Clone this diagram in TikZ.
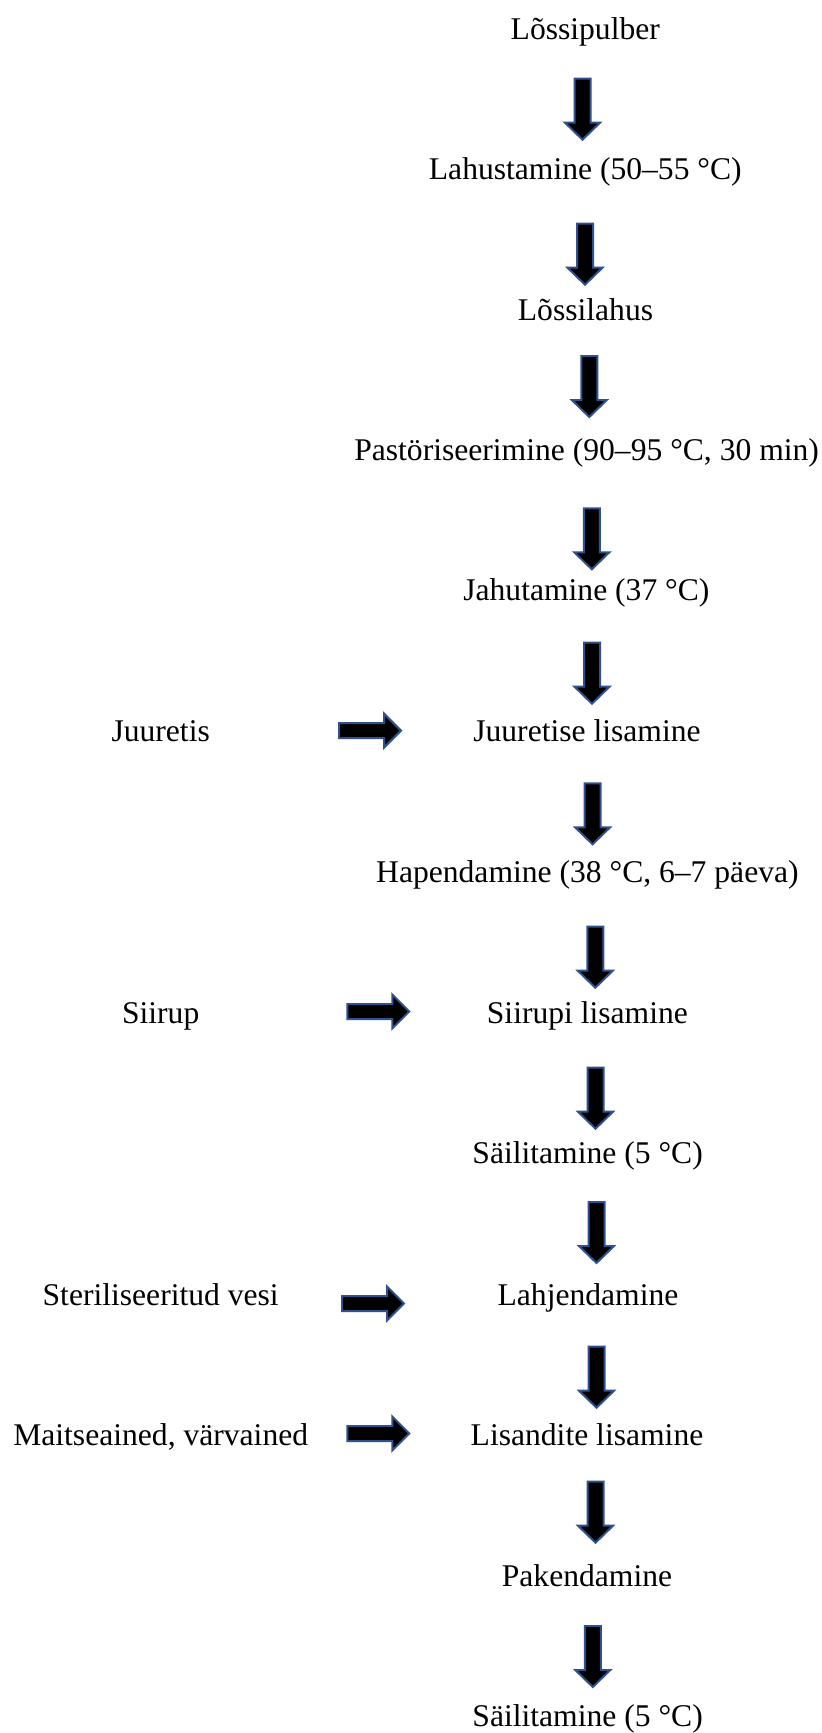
\documentclass[tikz,border=0pt]{standalone}
\usepackage{fontspec}
\setmainfont{Liberation Serif}
\definecolor{arrowblue}{RGB}{47,82,143}
\newcommand\dnblock[1]{\draw[blockarrow] (#1) ++(-8,0) -- ++(16,0) -- ++(0,44) -- ++(9.5,0) -- ++(-17.5,17) -- ++(-17.5,-17) -- ++(9.5,0) -- cycle;}
\newcommand\rtblock[1]{\draw[blockarrow] (#1) ++(0,-7.5) -- ++(45,0) -- ++(0,-9.5) -- ++(17,17) -- ++(-17,17) -- ++(0,-9.5) -- ++(-45,0) -- cycle;}
\begin{document}
\begin{tikzpicture}[x=1pt,y=-1pt,
  txt/.style={inner sep=0pt, anchor=base, font=\fontsize{31.6}{38}\selectfont},
  blockarrow/.style={fill=black, draw=arrowblue, line width=2pt, line join=miter}]
\fill[white] (0,0) rectangle (822,1733);
\useasboundingbox (0,0) rectangle (822,1733);
% main column
\node[txt] (n1) at (585.3,39) {Lõssipulber};
\node[txt] (n2) at (585.3,179) {Lahustamine (50–55 °C)};
\node[txt] (n3) at (585.5,320) {Lõssilahus};
\node[txt] (n4) at (586.6,460) {Pastöriseerimine (90–95 °C, 30 min)};
\node[txt] (n5) at (586.4,600) {Jahutamine (37 °C)};
\node[txt] (n6) at (587,741.7) {Juuretise lisamine};
\node[txt] (n7) at (587.4,882.7) {Hapendamine (38 °C, 6–7 päeva)};
\node[txt] (n8) at (587.4,1023.3) {Siirupi lisamine};
\node[txt] (n9) at (587.6,1163.3) {Säilitamine (5 °C)};
\node[txt] (n10) at (588,1305) {Lahjendamine};
\node[txt] (n11) at (587,1445) {Lisandite lisamine};
\node[txt] (n12) at (587,1586.7) {Pakendamine};
\node[txt] (n13) at (587.6,1726.7) {Säilitamine (5 °C)};
% side inputs
\node[txt] (l6) at (160.7,741.7) {Juuretis};
\node[txt] (l8) at (160.7,1023.3) {Siirup};
\node[txt] (l10) at (160.7,1305) {Steriliseeritud vesi};
\node[txt] (l11) at (160.7,1445) {Maitseained, värvained};
% down arrow anchors
\coordinate (d1) at (582.5,78.7);
\coordinate (d2) at (585,223.7);
\coordinate (d3) at (589.3,356);
\coordinate (d4) at (591.8,508.3);
\coordinate (d5) at (592,642.7);
\coordinate (d6) at (592.6,783.3);
\coordinate (d7) at (595.3,926.7);
\coordinate (d8) at (595.5,1067.7);
\coordinate (d9) at (596.5,1202);
\coordinate (d10) at (596.5,1346.7);
\coordinate (d11) at (595.5,1481.7);
\coordinate (d12) at (592.8,1626);
\foreach \i in {1,...,12} {\dnblock{d\i}}
% side arrow anchors
\coordinate (s6) at (339,730.6);
\coordinate (s8) at (347.3,1011.5);
\coordinate (s10) at (342,1303.5);
\coordinate (s11) at (347.3,1433.5);
\rtblock{s6}
\rtblock{s8}
\rtblock{s10}
\rtblock{s11}
\end{tikzpicture}
\end{document}
